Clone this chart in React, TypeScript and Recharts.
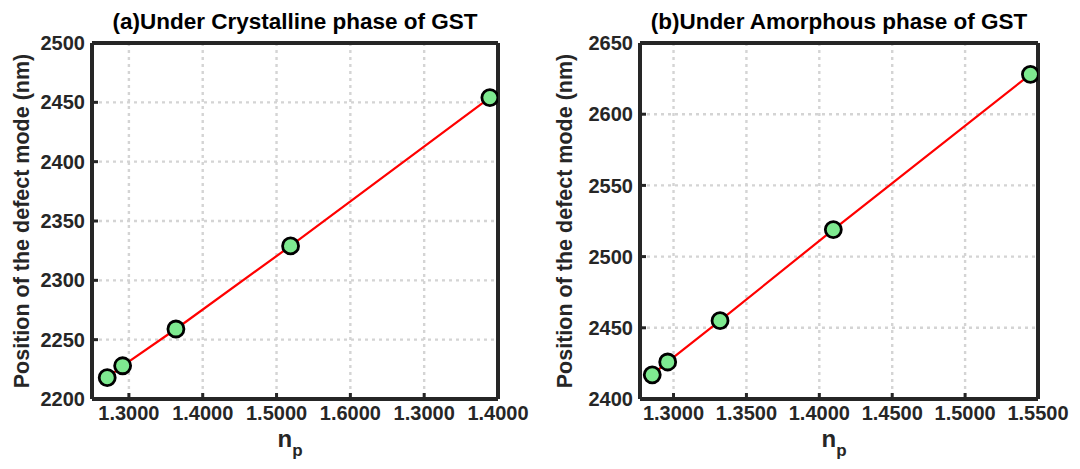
import React from 'react';
import { ComposedChart, Line, XAxis, YAxis, CartesianGrid, Label } from 'recharts';

// Panel (a): crystalline phase
const crystallineTitle = '(a)Under Crystalline phase of GST';
const crystallineNp = [1.2706, 1.2915, 1.3637, 1.519, 1.789];
const crystallineDefect = [2218, 2228, 2259, 2329, 2454];
const crystallineXTicks = [1.3, 1.4, 1.5, 1.6, 1.7, 1.8];
const crystallineXTickLabels = ['1.3000', '1.4000', '1.5000', '1.6000', '1.3000', '1.4000'];
const crystallineXDomain = [1.25, 1.8];
const crystallineYTicks = [2200, 2250, 2300, 2350, 2400, 2450, 2500];

// Panel (b): amorphous phase
const amorphousTitle = '(b)Under Amorphous phase of GST';
const amorphousNp = [1.2854, 1.296, 1.3319, 1.4096, 1.5448];
const amorphousDefect = [2417, 2426, 2455, 2519, 2628];
const amorphousXTicks = [1.3, 1.35, 1.4, 1.45, 1.5, 1.55];
const amorphousXTickLabels = ['1.3000', '1.3500', '1.4000', '1.4500', '1.5000', '1.5500'];
const amorphousXDomain = [1.277, 1.55];
const amorphousYTicks = [2400, 2450, 2500, 2550, 2600, 2650];

const yLabelText = 'Position of the defect mode (nm)';

const FONT = '"Liberation Sans", Arial, Helvetica, sans-serif';
const AXIS_COLOR = '#262626';

type PanelProps = {
  left: number;
  width: number;
  yAxisWidth: number;
  yLabelX: number;
  title: string;
  np: number[];
  defect: number[];
  xTicks: number[];
  xTickLabels: string[];
  xDomain: number[];
  yTicks: number[];
};

function Panel(p: PanelProps) {
  const data = p.np.map((x, i) => ({ x, y: p.defect[i] }));
  const yDomain = [p.yTicks[0], p.yTicks[p.yTicks.length - 1]];
  const fmtX = (v: number) => {
    const idx = p.xTicks.findIndex((t) => Math.abs(t - v) < 1e-6);
    return idx >= 0 ? p.xTickLabels[idx] : String(v);
  };
  const tickStyle = { fontFamily: FONT, fontSize: 20, fontWeight: 700, fill: AXIS_COLOR };
  const lineStyle = { stroke: AXIS_COLOR, strokeWidth: 3 };
  const boxStyle = { stroke: AXIS_COLOR, strokeWidth: 4 };
  return (
    <div style={{ position: 'absolute', left: p.left, top: 0 }}>
      <ComposedChart
        width={p.width}
        height={469}
        data={data}
        margin={{ top: 41, right: 32, bottom: 0, left: 0 }}
      >
        <CartesianGrid
          stroke="#d4d4d4"
          strokeWidth={2.4}
          strokeDasharray="3 4"
          xAxisId="b"
          yAxisId="l"
        />
        <XAxis
          xAxisId="b"
          dataKey="x"
          type="number"
          orientation="bottom"
          domain={p.xDomain}
          ticks={p.xTicks}
          interval={0}
          allowDataOverflow
          height={70}
          tickFormatter={fmtX}
          tick={tickStyle}
          tickSize={-6}
          tickMargin={13}
          tickLine={lineStyle}
          axisLine={boxStyle}
        >
          <Label
            content={(props: any) => {
              const vb = props.viewBox || {};
              const cx = vb.x + vb.width / 2;
              return (
                <g>
                  <text
                    x={cx - 5}
                    y={447}
                    textAnchor="middle"
                    fontFamily={FONT}
                    fontWeight={700}
                    fontSize={24}
                    fill={AXIS_COLOR}
                  >
                    n
                    <tspan fontSize={17} dy={9}>p</tspan>
                  </text>
                  <text
                    x={cx}
                    y={29}
                    textAnchor="middle"
                    fontFamily={FONT}
                    fontWeight={700}
                    fontSize={22.5}
                    fill="#000"
                  >
                    {p.title}
                  </text>
                </g>
              );
            }}
          />
        </XAxis>
        <XAxis
          xAxisId="t"
          type="number"
          orientation="top"
          domain={p.xDomain}
          ticks={p.xTicks}
          interval={0}
          allowDataOverflow
          height={2}
          tick={false}
          tickSize={-6}
          tickLine={lineStyle}
          axisLine={boxStyle}
        />
        <YAxis
          yAxisId="l"
          type="number"
          orientation="left"
          domain={yDomain}
          ticks={p.yTicks}
          interval={0}
          allowDataOverflow
          width={p.yAxisWidth}
          tick={tickStyle}
          tickSize={-6}
          tickMargin={13}
          tickLine={lineStyle}
          axisLine={boxStyle}
        >
          <Label
            content={(props: any) => {
              const vb = props.viewBox || {};
              const cy = vb.y + vb.height / 2;
              const lx = p.yLabelX;
              return (
                <text
                  x={lx}
                  y={cy}
                  transform={`rotate(-90, ${lx}, ${cy})`}
                  textAnchor="middle"
                  fontFamily={FONT}
                  fontWeight={700}
                  fontSize={21.5}
                  fill={AXIS_COLOR}
                >
                  {yLabelText}
                </text>
              );
            }}
          />
        </YAxis>
        <YAxis
          yAxisId="r"
          type="number"
          orientation="right"
          domain={yDomain}
          ticks={p.yTicks}
          interval={0}
          allowDataOverflow
          width={10}
          tick={false}
          tickSize={-6}
          tickLine={lineStyle}
          axisLine={boxStyle}
        />
        <Line
          xAxisId="b"
          yAxisId="l"
          dataKey="y"
          type="linear"
          stroke="#ff0000"
          strokeWidth={2.2}
          dot={{ r: 8, fill: '#7eea90', stroke: '#000', strokeWidth: 2.8 }}
          activeDot={false}
          isAnimationActive={false}
        />
      </ComposedChart>
    </div>
  );
}

export default function App() {
  return (
    <div
      style={{
        position: 'absolute',
        left: 0,
        top: 0,
        width: 1080,
        height: 469,
        background: '#fff',
        overflow: 'hidden',
      }}
    >
      <Panel
        left={0}
        width={540}
        yAxisWidth={92}
        yLabelX={29}
        title={crystallineTitle}
        np={crystallineNp}
        defect={crystallineDefect}
        xTicks={crystallineXTicks}
        xTickLabels={crystallineXTickLabels}
        xDomain={crystallineXDomain}
        yTicks={crystallineYTicks}
      />
      <Panel
        left={540}
        width={540}
        yAxisWidth={100}
        yLabelX={32}
        title={amorphousTitle}
        np={amorphousNp}
        defect={amorphousDefect}
        xTicks={amorphousXTicks}
        xTickLabels={amorphousXTickLabels}
        xDomain={amorphousXDomain}
        yTicks={amorphousYTicks}
      />
    </div>
  );
}
